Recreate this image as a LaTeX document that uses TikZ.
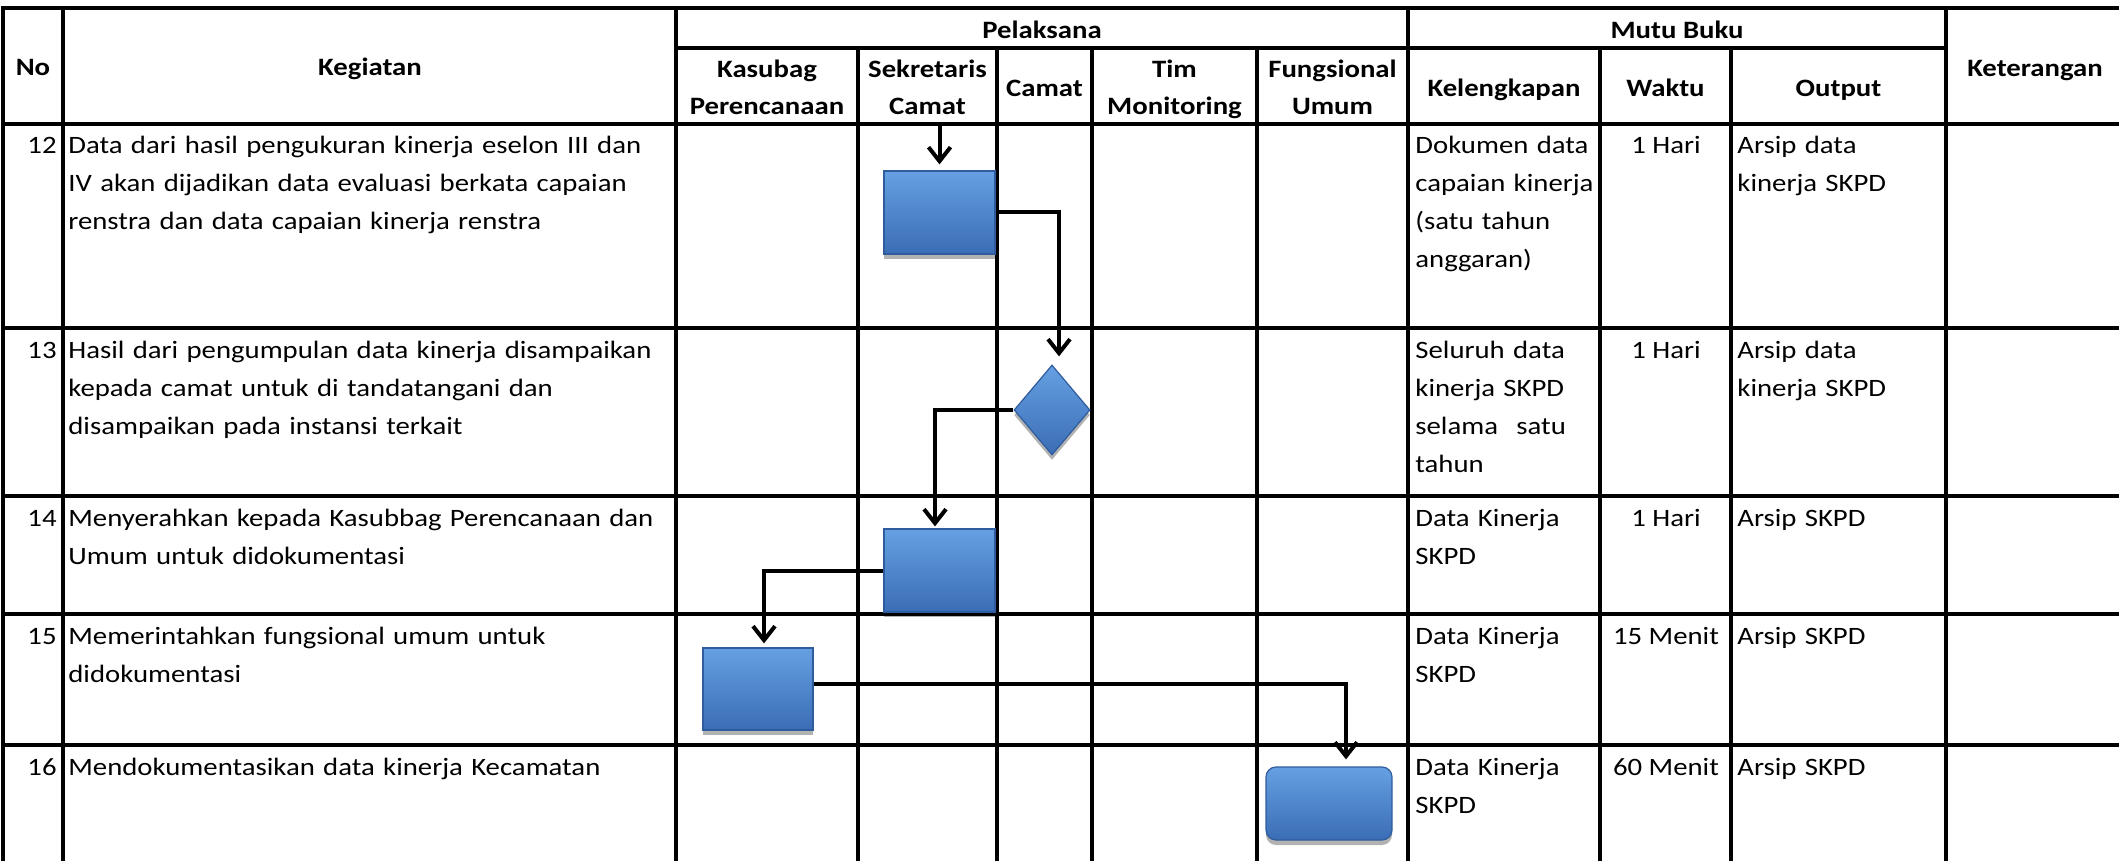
\documentclass[tikz,border=0pt]{standalone}
\usepackage{fontspec}
\setmainfont{Carlito}[FakeStretch=1.15]
\usetikzlibrary{arrows.meta,shapes.geometric,shadows}
\definecolor{boxtop}{HTML}{66A0E2}
\definecolor{boxmid}{HTML}{4783CD}
\definecolor{boxbot}{HTML}{3A6DB5}
\definecolor{boxedge}{HTML}{2F5C9C}
\newcommand\cellfont{\fontsize{12.5pt}{19pt}\selectfont}
\newcommand\hdrfont{\fontsize{12.5pt}{18.5pt}\selectfont\bfseries}
\begin{document}
\begin{tikzpicture}[x=0.5pt,y=-0.5pt,
  grid/.style={line width=1.7pt, line cap=rect},
  conn/.style={line width=2pt, -{Straight Barb[length=7pt,width=11pt]}},
  procbox/.style={rectangle, draw=boxedge, line width=0.6pt, top color=boxtop, middle color=boxmid, bottom color=boxbot, inner sep=0pt,
    drop shadow={shadow xshift=0pt, shadow yshift=-2.5pt, opacity=0.3, fill=black}},
  decision/.style={diamond, draw=boxedge, line width=0.6pt, top color=boxtop, middle color=boxmid, bottom color=boxbot, inner sep=0pt,
    drop shadow={shadow xshift=0pt, shadow yshift=-2.5pt, opacity=0.3, fill=black}},
  hdr/.style={inner sep=0pt, anchor=base, font=\hdrfont},
  hdrtwo/.style={hdr, text width=100pt, align=center},
  num/.style={inner sep=0pt, anchor=base east, font=\cellfont},
  txt/.style={inner sep=0pt, anchor=base west, text width=320pt, align=left, font=\cellfont},
  ctr/.style={inner sep=0pt, anchor=base, font=\cellfont}
]
\useasboundingbox (0,0) rectangle (2119,861);
\fill[white] (0,0) rectangle (2119,861);
\clip (0,0) rectangle (2119,861);

% table grid
\foreach \yy in {8,124,328,496,614,745} \draw[grid] (3,\yy) -- (2125,\yy);
\draw[grid] (676,48) -- (1946,48);
\foreach \xx in {3,63,676,1408,1946} \draw[grid] (\xx,8) -- (\xx,870);
\foreach \xx in {858,997,1092,1257,1600,1731} \draw[grid] (\xx,48) -- (\xx,870);

% headers
\node[hdr] (hno) at (33,76) {No};
\node[hdr] (hkeg) at (370,76) {Kegiatan};
\node[hdr] (hpel) at (1042,39) {Pelaksana};
\node[hdrtwo] (hkas) at (767,78) {Kasubag\\Perencanaan};
\node[hdrtwo] (hsek) at (927.5,78) {Sekretaris\\Camat};
\node[hdr] (hcam) at (1044.5,97) {Camat};
\node[hdrtwo] (htim) at (1174.5,78) {Tim\\Monitoring};
\node[hdrtwo] (hfun) at (1332.5,78) {Fungsional\\Umum};
\node[hdr] (hmutu) at (1677,39) {Mutu Buku};
\node[hdr] (hkel) at (1504,97) {Kelengkapan};
\node[hdr] (hwak) at (1665.5,97) {Waktu};
\node[hdr] (hout) at (1838.5,97) {Output};
\node[hdr] (hket) at (2035,77) {Keterangan};

% row 12
\node[num] (n12) at (57,154) {12};
\node[txt] (k12) at (68,154) {Data dari hasil pengukuran kinerja eselon III dan\\IV akan dijadikan data evaluasi berkata capaian\\renstra dan data capaian kinerja renstra};
\node[txt] (l12) at (1415,154) {Dokumen data\\capaian kinerja\\(satu tahun\\anggaran)};
\node[ctr] (w12) at (1666,154) {1 Hari};
\node[txt] (o12) at (1737,154) {Arsip data\\kinerja SKPD};

% row 13
\node[num] (n13) at (57,358) {13};
\node[txt] (k13) at (68,358) {Hasil dari pengumpulan data kinerja disampaikan\\kepada camat untuk di tandatangani dan\\disampaikan pada instansi terkait};
\node[txt] (l13) at (1415,358) {Seluruh data\\kinerja SKPD\\selama \hspace{5pt}satu\\tahun};
\node[ctr] (w13) at (1666,358) {1 Hari};
\node[txt] (o13) at (1737,358) {Arsip data\\kinerja SKPD};

% row 14
\node[num] (n14) at (57,526) {14};
\node[txt] (k14) at (68,526) {Menyerahkan kepada Kasubbag Perencanaan dan\\Umum untuk didokumentasi};
\node[txt] (l14) at (1415,526) {Data Kinerja\\SKPD};
\node[ctr] (w14) at (1666,526) {1 Hari};
\node[txt] (o14) at (1737,526) {Arsip SKPD};

% row 15
\node[num] (n15) at (57,644) {15};
\node[txt] (k15) at (68,644) {Memerintahkan fungsional umum untuk\\didokumentasi};
\node[txt] (l15) at (1415,644) {Data Kinerja\\SKPD};
\node[ctr] (w15) at (1666,644) {15 Menit};
\node[txt] (o15) at (1737,644) {Arsip SKPD};

% row 16
\node[num] (n16) at (57,775) {16};
\node[txt] (k16) at (68,775) {Mendokumentasikan data kinerja Kecamatan};
\node[txt] (l16) at (1415,775) {Data Kinerja\\SKPD};
\node[ctr] (w16) at (1666,775) {60 Menit};
\node[txt] (o16) at (1737,775) {Arsip SKPD};

% flow shapes
\node[procbox, minimum width=55.5pt, minimum height=41.5pt] (b12) at (939.5,212.5) {};
\node[decision, minimum width=38pt, minimum height=45pt] (d13) at (1052,410) {};
\node[procbox, minimum width=55.5pt, minimum height=41.5pt] (b14) at (939.5,570.5) {};
\node[procbox, minimum width=55pt, minimum height=41pt] (b15) at (758,689) {};
\node[procbox, rounded corners=5pt, minimum width=63pt, minimum height=36.5pt] (b16) at (1329,803.5) {};

% connectors
\coordinate (s12) at (939.5,126);
\draw[conn, shorten >=3pt] (s12) -- (b12.north);
\draw[conn, shorten >=4pt] (b12.east) -| ([xshift=3.5pt]d13.north);
\draw[conn, shorten >=1pt] (d13.west) -| ([xshift=-2.25pt]b14.north);
\draw[conn, shorten >=2pt] (b14.west) -| ([xshift=3pt]b15.north);
\draw[conn, shorten >=3.5pt] ([yshift=2.5pt]b15.east) -| ([xshift=8.5pt]b16.north);
\end{tikzpicture}
\end{document}
